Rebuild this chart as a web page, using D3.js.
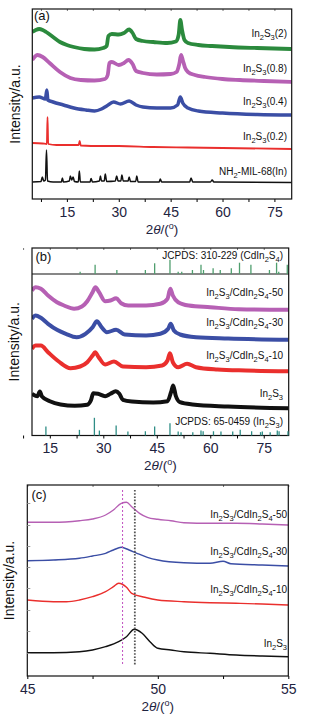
<!DOCTYPE html>
<html>
<head>
<meta charset="utf-8">
<script src="https://cdn.jsdelivr.net/npm/d3@7"></script>
<style>
  body { margin: 0; background: #fff; }
  svg { display: block; font-family: "Liberation Sans", Arial, sans-serif; }
</style>
</head>
<body>
<svg id="chart" width="317" height="716"></svg>
<script>
// ---- panel (a): [2theta, intensity] ----
const greenA = [[5,167],[6,169],[7,170],[8,169],[9,167],[11,162],[13,157],[15,154],[17,152],[20,150],[23,149.5],[25.5,151],[26.5,153],[27,163],[28,165],[30,164.5],[31.5,166],[33,169.5],[34,166],[35,160],[37,158],[40,157],[44,156],[46.5,157.5],[47.3,164],[47.8,179],[48.3,169],[49,159],[50,156],[53,154],[57,153],[62,152],[70,151],[80,150]];
const magentaA = [[5,139],[6.5,144],[8,142],[10,136],[13,127],[16,121],[19,119],[23,118.5],[26,120],[26.8,124],[27.3,136],[28,137],[30,134],[31.5,136],[32.8,139],[34,135],[35,128],[37,126],[41,124.5],[45,125],[46.7,127],[47.5,135],[48,144],[48.5,139],[49.2,131],[50,127],[52,124],[55,122],[60,120],[65,119],[72,118],[80,117]];
const blueA = [[5,101],[7,102],[8.8,100],[9.2,109],[9.5,99],[11,97],[14,94],[17,91],[20.5,89],[23,88],[25,90],[26.5,93],[28.5,97],[30.5,95],[33,98],[35,94],[37,92],[41,91],[45,91],[47,94],[47.8,102],[48.5,96],[50,91],[53,88],[60,86],[70,84.5],[80,84]];
const redA = [[5,56],[8,55.5],[9.2,55],[9.4,82],[9.6,55],[12,54],[18.4,54],[18.7,58],[19,53.5],[25,53],[30,53],[40,52],[50,51.5],[60,51],[80,50]];
const blackA = [[5,17],[7.5,17.5],[7.9,22],[8.3,18],[8.8,19],[9.1,49],[9.4,18],[11,17],[13.4,17],[13.7,21],[14,17],[15.7,18],[16,23],[16.4,19],[16.8,22],[17.2,17.5],[18.3,17],[18.6,28],[18.9,17],[21.7,17],[22,20.5],[22.4,17],[24.4,18],[24.7,23],[25,18],[25.8,18],[26.1,25],[26.5,17.5],[29,18],[29.4,23],[29.8,18],[30.6,18],[30.9,24],[31.3,18],[32.7,18],[33,22],[33.4,17.5],[34.9,17.5],[35.2,23],[35.6,17],[41.7,17],[42,20],[42.4,17],[50.5,17],[50.9,21],[51.4,17],[56.5,17],[57,19],[57.5,17],[80,16.5]];
const labelsA = ["In_2S_3(2)", "In_2S_3(0.8)", "In_2S_3(0.4)", "In_2S_3(0.2)", "NH_2-MIL-68(In)"];

// ---- panel (b) ----
const magentaB = [[10,145],[11,148.3],[12.5,146.7],[14.5,140],[17,133.3],[19,130],[21.8,126.7],[24,129],[25.5,134.3],[27,143.3],[27.8,148.3],[28.8,143.3],[30.5,134.3],[32,135],[33.6,137.3],[35,132.3],[37,130],[42,130],[46,131.7],[48,136.7],[48.8,146.7],[49.5,140],[51,133.3],[54,130],[60,128.3],[68,126.3],[82,125.7]];
const blueB = [[10,116.7],[11,120],[12.5,117.7],[14.5,111.7],[17,105.7],[19.5,101.7],[22.5,98.3],[25,101.7],[27,108.3],[28.2,114.3],[29.5,108.3],[31,103.3],[33.6,105.7],[36,101],[42,100],[46,101.7],[48.2,106.7],[48.9,111.7],[49.8,105],[51.5,101],[56,98.3],[65,97],[82,95.7]];
const redB = [[10,86.7],[11,90],[12.5,90],[14.5,83.3],[17.5,74],[20.8,67.3],[23.5,69],[25.5,73.3],[27,80],[27.7,83.3],[28.7,78.3],[30.5,71],[33,74],[35.5,69],[42,68.3],[46.5,70],[48,75],[48.7,82.3],[49.5,73.3],[51,68.3],[53.5,71.7],[56,68.3],[62,66],[70,65],[82,64.3]];
const blackB = [[10,41.7],[11.5,39.3],[12.2,44],[12.8,39],[15,34.3],[18,31],[22,29.7],[25.5,30.7],[26.5,35],[27.2,42.3],[28.5,41.7],[30.5,39.3],[32,41.7],[33.5,44.3],[34.5,41.7],[35.5,35.7],[38,34],[44,33],[48,34.3],[49,43.3],[49.6,50],[50.3,40],[51.5,33.3],[55,31],[65,29],[82,27.3]];
const labelsB = ["In_2S_3/CdIn_2S_4-50", "In_2S_3/CdIn_2S_4-30", "In_2S_3/CdIn_2S_4-10", "In_2S_3"];
// reference patterns: [2theta, relative intensity]
const cdIn2S4Ref = [[23.5,16],[27.7,65],[33.8,28],[41.8,28],[44.4,75],[48.7,100],[51,16],[52,16],[55,28],[57.4,65],[58.1,28],[60.8,40],[62.8,28],[65.9,40],[68.2,79],[71.4,65],[76.6,28],[78.6,79],[79.2,16],[81.6,65]];
const in2S3Ref = [[13.9,51],[23.3,32],[27.5,100],[28.9,28],[33.6,56],[36.9,23],[41.8,24],[44.4,51],[48.7,69],[51,23],[51.8,19],[55.1,19],[57.4,28],[58,24],[60.9,24],[63,23],[66.3,23],[68.4,32],[71.6,24],[74.1,19],[74.6,23],[76.8,19],[78.8,28],[79.3,24],[81.8,24]];

// ---- panel (c) ----
const magentaC = [[45,153.7],[46,153.7],[47,155.3],[47.5,157],[48,161],[48.3,166],[48.6,172.7],[48.8,173.7],[49,169.3],[49.3,162.7],[49.6,158.7],[50,156.7],[50.5,155.3],[51,153.3],[52,152.7],[53,152.7],[54,152],[55,151]];
const blueC = [[45,115.3],[46,116],[47,117.7],[47.5,120],[48,122.7],[48.3,126],[48.6,128.7],[48.9,126],[49.2,122.7],[49.6,118.7],[50,116],[51,113.3],[52,112.7],[52.5,114.7],[52.8,112.3],[54,111],[55,110]];
const redC = [[45,76],[46,74.3],[46.5,74.3],[47,76],[47.5,79.3],[48,84.3],[48.3,89.3],[48.5,92.7],[48.8,88.7],[49,82.7],[49.5,78.7],[50,76],[51,74.3],[52,73.3],[53,72.7],[54,72],[55,71]];
const blackC = [[45,23.3],[46,23.3],[47,24.3],[47.5,26],[48,29.3],[48.5,34.3],[48.8,39.3],[49.1,46.7],[49.4,42.7],[49.7,34.3],[50,27.7],[50.5,26],[51,24.3],[52,22.7],[53,21],[54,20],[55,19.3]];
const labelsC = labelsB;
const peakMarksC = [48.65, 49.12];

const ticksAB = [15, 30, 45, 60, 75];
const minorAB = [7.5, 22.5, 37.5, 52.5, 67.5];
const ticksC = [45, 50, 55];
const minorC = [47.5, 52.5];
const yTicksC = [23, 45, 66, 88, 109, 130, 151, 173];

const COL = {
  green: "#2b8a3d",
  magenta: "#b660b4",
  blue: "#3b4ea5",
  red: "#ea2f2d",
  black: "#111",
  stickTop: "#4f9e6e",
  stickBottom: "#2f8d86",
  tick: "#1e2340",
};

const svg = d3.select("#chart");

// text with "_n" subscripts
const addSubText = (g, props) => {
  const ctx = { x: 0, y: 0, size: 10, anchor: "end", text: "", ...props };
  const t = g.append("text")
    .attr("x", ctx.x).attr("y", ctx.y)
    .attr("text-anchor", ctx.anchor)
    .attr("font-size", ctx.size)
    .attr("fill", "#111");
  let shift = 0;
  ctx.text.split(/(_\d)/).filter((s) => s.length).forEach((part) => {
    const sub = part[0] === "_";
    const dy = (sub ? 3 : 0) - shift;
    shift = sub ? 3 : 0;
    t.append("tspan")
      .attr("dy", dy)
      .attr("font-size", sub ? ctx.size * 0.75 : ctx.size)
      .text(sub ? part.slice(1) : part);
  });
};

const addPanel = (props) => {
  const defaultCtx = {
    id: "a",
    left: 32, right: 292, top: 9, bottom: 199, curveTop: 9,
    xDomain: [5, 80], yDomain: [0, 190],
    major: ticksAB, minor: minorAB,
    series: [], labels: [], labelY: [], labelRight: 287,
    letterX: 35, letterY: 20, yLabelX: 20,
  };
  const ctx = { ...defaultCtx, ...props };
  const g = svg.append("g");
  const x = d3.scaleLinear().domain(ctx.xDomain).range([ctx.left, ctx.right]);
  const y = d3.scaleLinear().domain(ctx.yDomain).range([ctx.bottom, ctx.curveTop]);

  g.append("clipPath").attr("id", "clip-" + ctx.id)
    .append("rect")
    .attr("x", ctx.left).attr("y", ctx.top)
    .attr("width", ctx.right - ctx.left).attr("height", ctx.bottom - ctx.top);

  const line = d3.line()
    .x((d) => x(d[0]))
    .y((d) => y(d[1]))
    .curve(d3.curveMonotoneX);

  ctx.series.forEach((s) => {
    g.append("path")
      .attr("d", line(s.values))
      .attr("fill", "none")
      .attr("stroke", s.color)
      .attr("stroke-width", s.width)
      .attr("stroke-linejoin", "round")
      .attr("clip-path", `url(#clip-${ctx.id})`);
  });

  ctx.labels.forEach((txt, i) => {
    addSubText(g, { x: ctx.labelRight, y: ctx.labelY[i], text: txt });
  });

  // bottom axis, labelled and minor ticks
  const axB = g.append("g").attr("transform", `translate(0,${ctx.bottom})`)
    .call(d3.axisBottom(x).tickValues(ctx.major).tickSize(3).tickPadding(5).tickFormat(d3.format("d")));
  g.append("g").attr("transform", `translate(0,${ctx.bottom})`)
    .call(d3.axisBottom(x).tickValues(ctx.minor).tickSize(3).tickFormat(""));
  // inner ticks on top edge
  g.append("g").attr("transform", `translate(0,${ctx.top})`)
    .call(d3.axisBottom(x).tickValues(ctx.major.concat(ctx.minor)).tickSize(2).tickFormat(""))
    .selectAll("line").attr("stroke", "#777");
  g.selectAll(".domain").remove();
  axB.selectAll("text")
    .attr("font-size", 14)
    .attr("font-family", "Liberation Sans, Arial, sans-serif")
    .attr("fill", COL.tick);
  g.selectAll(".tick line").attr("stroke-width", 1);

  g.append("rect")
    .attr("x", ctx.left).attr("y", ctx.top)
    .attr("width", ctx.right - ctx.left).attr("height", ctx.bottom - ctx.top)
    .attr("fill", "none").attr("stroke", "#111").attr("stroke-width", 1.2);

  g.append("text")
    .attr("x", ctx.letterX).attr("y", ctx.letterY)
    .attr("font-size", 13).attr("fill", "#111")
    .text(`(${ctx.id})`);

  // axis titles
  const xt = g.append("text")
    .attr("x", (ctx.left + ctx.right) / 2).attr("y", ctx.bottom + 34.5)
    .attr("text-anchor", "middle").attr("font-size", 13.5).attr("fill", COL.tick);
  xt.append("tspan").text("2");
  xt.append("tspan").attr("font-style", "italic").text("θ");
  xt.append("tspan").text("/(");
  xt.append("tspan").attr("font-size", 9).attr("dy", -5).text("o");
  xt.append("tspan").attr("dy", 5).text(")");

  g.append("text")
    .attr("transform", `translate(${ctx.yLabelX},${(ctx.top + ctx.bottom) / 2}) rotate(-90)`)
    .attr("text-anchor", "middle").attr("font-size", 14).attr("fill", "#111")
    .text("Intensity/a.u.");

  return { g, x, y };
};

// ---- (a) ----
addPanel({
  id: "a",
  left: 32.3, right: 291.7, top: 9, bottom: 199, curveTop: 9,
  xDomain: [5, 80], yDomain: [0, 190],
  series: [
    { values: greenA, color: COL.green, width: 3.8 },
    { values: magentaA, color: COL.magenta, width: 3.8 },
    { values: blueA, color: COL.blue, width: 3.5 },
    { values: redA, color: COL.red, width: 1.8 },
    { values: blackA, color: COL.black, width: 1.5 },
  ],
  labels: labelsA,
  labelY: [37, 71.5, 105, 140, 175],
  labelRight: 287,
  letterX: 34, letterY: 20, yLabelX: 20,
});

// ---- (b) ----
const pb = addPanel({
  id: "b",
  left: 32, right: 288.7, top: 248, bottom: 435.5, curveTop: 274,
  xDomain: [10, 82], yDomain: [0, 161.5],
  series: [
    { values: magentaB, color: COL.magenta, width: 4 },
    { values: blueB, color: COL.blue, width: 4 },
    { values: redB, color: COL.red, width: 4 },
    { values: blackB, color: COL.black, width: 4 },
  ],
  labels: labelsB,
  labelY: [296, 326, 359, 397],
  labelRight: 283,
  letterX: 35.5, letterY: 260.5, yLabelX: 19,
});
pb.g.append("line")
  .attr("x1", 32).attr("x2", 288.7).attr("y1", 274).attr("y2", 274)
  .attr("stroke", "#111").attr("stroke-width", 1.2);
const yTopRef = d3.scaleLinear().domain([0, 100]).range([274, 259.7]);
const yBotRef = d3.scaleLinear().domain([0, 100]).range([435.5, 417.8]);
pb.g.selectAll("line.refTop").data(cdIn2S4Ref).join("line")
  .attr("class", "refTop")
  .attr("x1", (d) => pb.x(d[0])).attr("x2", (d) => pb.x(d[0]))
  .attr("y1", yTopRef(0)).attr("y2", (d) => yTopRef(d[1]))
  .attr("stroke", COL.stickTop).attr("stroke-width", 1.3);
pb.g.selectAll("line.refBot").data(in2S3Ref).join("line")
  .attr("class", "refBot")
  .attr("x1", (d) => pb.x(d[0])).attr("x2", (d) => pb.x(d[0]))
  .attr("y1", yBotRef(0)).attr("y2", (d) => yBotRef(d[1]))
  .attr("stroke", COL.stickBottom).attr("stroke-width", 1.3);
addSubText(pb.g, { x: 283, y: 258.5, text: "JCPDS: 310-229 (CdIn_2S_4)" });
addSubText(pb.g, { x: 283, y: 425, text: "JCPDS: 65-0459 (In_2S_3)" });

// ---- (c) ----
const pc = addPanel({
  id: "c",
  left: 27.3, right: 288.3, top: 485, bottom: 676, curveTop: 485,
  xDomain: [45, 55], yDomain: [0, 191],
  major: ticksC, minor: minorC,
  series: [
    { values: magentaC, color: COL.magenta, width: 1.4 },
    { values: blueC, color: COL.blue, width: 1.4 },
    { values: redC, color: COL.red, width: 1.4 },
    { values: blackC, color: COL.black, width: 1.4 },
  ],
  labels: labelsC,
  labelY: [517.5, 555, 592.5, 647],
  labelRight: 287,
  letterX: 31.5, letterY: 499, yLabelX: 14,
});
pc.g.append("g").attr("transform", `translate(${27.3},0)`)
  .call(d3.axisRight(pc.y).tickValues(yTicksC).tickSize(3).tickFormat(""))
  .call((a) => a.select(".domain").remove())
  .selectAll("line").attr("stroke", "#999");
pc.g.selectAll("line.peak").data(peakMarksC).join("line")
  .attr("class", "peak")
  .attr("x1", (d) => pc.x(d)).attr("x2", (d) => pc.x(d))
  .attr("y1", pc.y(186)).attr("y2", pc.y(11))
  .attr("stroke", (d, i) => (i === 0 ? "#c04fc0" : "#555"))
  .attr("stroke-width", (d, i) => (i === 0 ? 1 : 1.8))
  .attr("stroke-dasharray", (d, i) => (i === 0 ? "2,2" : "1.6,1.6"));
</script>
</body>
</html>
